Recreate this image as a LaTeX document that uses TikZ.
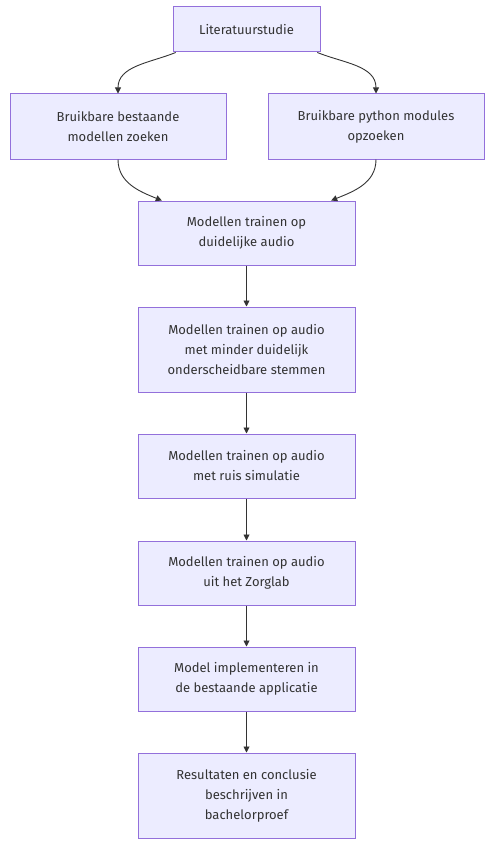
\documentclass[tikz,border=0pt]{standalone}
\usepackage{fontspec}
\setmainfont{Fira Sans}
\usepackage{xcolor}
\usetikzlibrary{arrows.meta,positioning}
\definecolor{boxFill}{HTML}{ECECFF}
\definecolor{boxLine}{HTML}{9370DB}
\definecolor{ink}{HTML}{333333}

\begin{document}
\begin{tikzpicture}[x=1pt, y=1pt, font=\fontsize{13}{20}\selectfont, text=ink,
  stage/.style={draw=boxLine, fill=boxFill, line width=1pt, align=center,
    minimum width=217pt, minimum height=64pt, inner sep=0pt},
  flow/.style={ink, line width=0.9pt, -{Triangle[length=6pt,width=6pt]}}]
  % canvas, one unit is one pixel of the reference
  \useasboundingbox (0,0) rectangle (498,-848);
  % top row
  \node[stage, minimum width=147pt, minimum height=45pt] (lit) at (246.5,-29.5) {Literatuurstudie};
  \node[stage, minimum width=216pt, minimum height=65pt] (best) at (118,-126.5)
    {Bruikbare bestaande\\modellen zoeken};
  \node[stage, minimum width=216pt, minimum height=65pt] (pyth) at (376,-126.5)
    {Bruikbare python modules\\opzoeken};
  % the main column
  \node[stage] (train1) at (246.5,-233) {Modellen trainen op\\duidelijke audio};
  \node[stage, minimum height=85pt, below=41pt of train1] (train2)
    {Modellen trainen op audio\\met minder duidelijk\\onderscheidbare stemmen};
  \node[stage, below=41pt of train2] (train3) {Modellen trainen op audio\\met ruis simulatie};
  \node[stage, below=42pt of train3] (train4) {Modellen trainen op audio\\uit het Zorglab};
  \node[stage, below=41pt of train4] (impl) {Model implementeren in\\de bestaande applicatie};
  \node[stage, minimum height=85pt, below=41pt of impl] (res)
    {Resultaten en conclusie\\beschrijven in\\bachelorproef};
  % curved connectors
  \draw[flow] (lit.198) to[out=-158, in=90] (best.north);
  \draw[flow] (lit.342) to[out=-22, in=90] (pyth.north);
  \draw[flow] (best.south) to[out=-90, in=158] (train1.159);
  \draw[flow] (pyth.south) to[out=-90, in=22] (train1.21);
  % straight ones
  \draw[flow] (train1) -- (train2);
  \draw[flow] (train2) -- (train3);
  \draw[flow] (train3) -- (train4);
  \draw[flow] (train4) -- (impl);
  \draw[flow] (impl) -- (res);
\end{tikzpicture}
\end{document}
